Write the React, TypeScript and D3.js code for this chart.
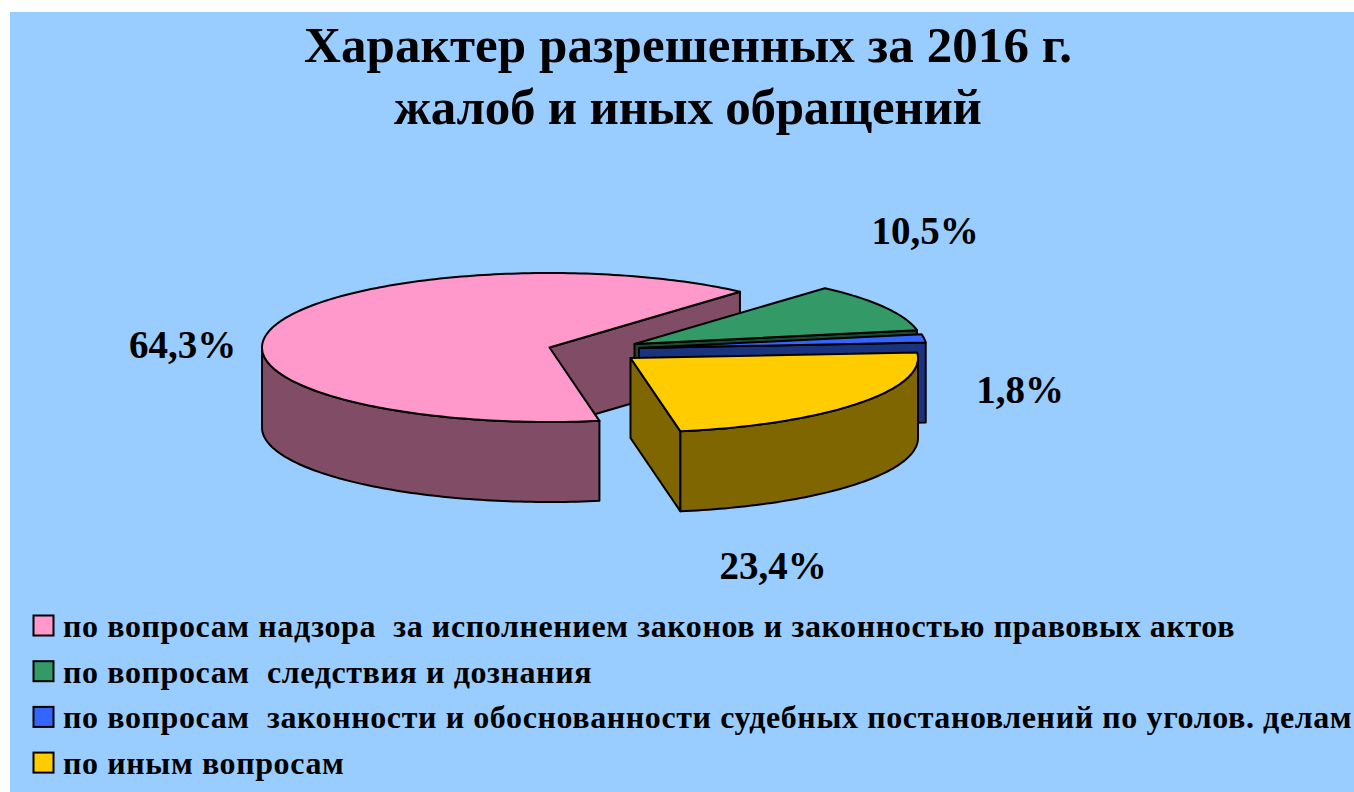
import React from "react";
import * as d3 from "d3";

const W = 1354;
const H = 792;

const categories = [
  "по вопросам надзора  за исполнением законов и законностью правовых актов",
  "по вопросам  следствия и дознания",
  "по вопросам  законности и обоснованности судебных постановлений по уголов. делам",
  "по иным вопросам",
];
const values = [64.3, 10.5, 1.8, 23.4];
const valueLabels = ["64,3%", "10,5%", "1,8%", "23,4%"];
const colors = ["#FF99CC", "#339966", "#3366FF", "#FFCC00"];
const darkColors = ["#804C66", "#1A4C33", "#1A3380", "#806600"];
const titleLines = ["Характер разрешенных за 2016 г.", "жалоб и иных обращений"];

// layout
const RX = 287.5;
const RY = 74.5;
const DEPTH = 80;
const APEX_X = [549.5, 634.5, 639, 630.5];
const APEX_Y = [347.5, 344, 348, 358];
const LABEL_X = [182.5, 925, 1020, 773];
const LABEL_Y = [358, 244, 403, 579];
const TITLE_WIDTHS = [768, 588];
const START_ANGLE = (170 * Math.PI) / 180;
const SERIF = "'Liberation Serif', 'Times New Roman', serif";
const TAU = 2 * Math.PI;

const arcs = d3
  .pie<number>()
  .sort(null)
  .startAngle(START_ANGLE)
  .endAngle(START_ANGLE + TAU)(values)
  .map((d) => {
    // keep each slice's start inside the first turn
    const shift = Math.floor(d.startAngle / TAU) * TAU;
    return { startAngle: d.startAngle - shift, endAngle: d.endAngle - shift };
  });

const sx = d3.scaleLinear().domain([-1, 1]).range([-RX, RX]);
const sy = d3.scaleLinear().domain([-1, 1]).range([RY, -RY]);

function pt(i: number, a: number, dz = 0): [number, number] {
  return [APEX_X[i] + sx(Math.sin(a)), APEX_Y[i] + sy(Math.cos(a)) + dz];
}
function arcPts(i: number, a0: number, a1: number, dz = 0) {
  const n = Math.max(2, Math.ceil(Math.abs(a1 - a0) / 0.02));
  return d3.range(n + 1).map((k) => pt(i, a0 + ((a1 - a0) * k) / n, dz));
}
const line = d3.line();

function Slice({ i }: { i: number }) {
  const { startAngle: a0, endAngle: a1 } = arcs[i];
  const apex: [number, number] = [APEX_X[i], APEX_Y[i]];
  const apexLow: [number, number] = [APEX_X[i], APEX_Y[i] + DEPTH];
  const stroke = { stroke: "#000", strokeWidth: 2, strokeLinejoin: "round" as const };

  const top = line([apex, ...arcPts(i, a0, a1)]) + "Z";
  const walls: string[] = [];

  // the radial cut at the slice's end faces the viewer when its sine is positive
  if (Math.sin(a1) > 0) {
    const p = pt(i, a1);
    walls.push(line([apex, p, [p[0], p[1] + DEPTH], apexLow])! + "Z");
  }
  // outer rim, only its front half
  const from = Math.max(a0, Math.PI / 2);
  const to = Math.min(a1, (3 * Math.PI) / 2);
  if (to > from) {
    walls.push(line([...arcPts(i, from, to), ...arcPts(i, to, from, DEPTH)])! + "Z");
  }
  return (
    <g>
      {walls.map((d, k) => (
        <path key={k} d={d} fill={darkColors[i]} {...stroke} />
      ))}
      <path d={top} fill={colors[i]} {...stroke} />
    </g>
  );
}

export default function App() {
  return (
    <svg
      width={W}
      height={H}
      viewBox={`0 0 ${W} ${H}`}
      style={{ position: "absolute", left: 0, top: 0, display: "block", background: "#fff" }}
    >
      <rect x={10} y={12} width={W - 10} height={H - 12} fill="#99CCFF" />
      {titleLines.map((t, i) => (
        <text
          key={i}
          x={688}
          y={62 + i * 62}
          textAnchor="middle"
          fontFamily={SERIF}
          fontWeight="bold"
          fontSize={51}
          textLength={TITLE_WIDTHS[i]}
          lengthAdjust="spacing"
        >
          {t}
        </text>
      ))}
      {values.map((_, i) => (
        <Slice key={i} i={i} />
      ))}
      {valueLabels.map((t, i) => (
        <text
          key={i}
          x={LABEL_X[i]}
          y={LABEL_Y[i]}
          textAnchor="middle"
          fontFamily={SERIF}
          fontWeight="bold"
          fontSize={39}
        >
          {t}
        </text>
      ))}
      {categories.map((t, i) => (
        <g key={i}>
          <rect x={33.5} y={615.5 + i * 45.7} width={20} height={20} fill={colors[i]} stroke="#000" strokeWidth={2} />
          <text
            x={63}
            y={637 + i * 45.7}
            fontFamily={SERIF}
            fontWeight="bold"
            fontSize={32}
            letterSpacing={0.6}
            style={{ whiteSpace: "pre" }}
          >
            {t}
          </text>
        </g>
      ))}
    </svg>
  );
}
